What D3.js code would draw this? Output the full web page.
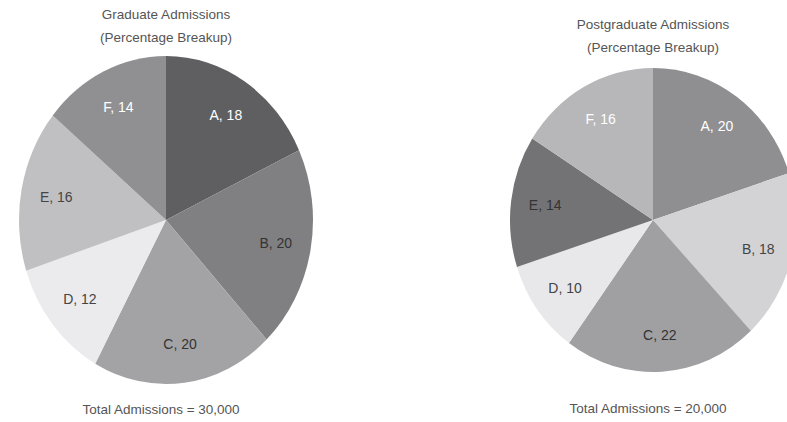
<!DOCTYPE html>
<html>
<head>
<meta charset="utf-8">
<script src="https://cdn.jsdelivr.net/npm/d3@7"></script>
<style>
  body { margin: 0; background: #fff; overflow: hidden; }
  svg { display: block; font-family: "Liberation Sans", Arial, sans-serif; }
  .title, .total { fill: #555; font-size: 13.5px; }
  .slice-label { font-size: 14px; }
</style>
</head>
<body>
<svg id="chart" width="787" height="422"></svg>
<script>
// categories and values (percent)
const categories = ["A", "B", "C", "D", "E", "F"];
const gradValues = [18, 20, 20, 12, 16, 14];
const postValues = [20, 18, 22, 10, 14, 16];
const gradColors = ["#5f5f62", "#808083", "#a3a3a6", "#ebebee", "#c0c0c3", "#909093"];
const postColors = ["#8f8f92", "#d3d3d6", "#a0a0a3", "#e8e8eb", "#737376", "#b7b7ba"];
const gradLabelColors = ["#fff", "#333", "#333", "#444", "#444", "#fff"];
const postLabelColors = ["#fff", "#444", "#333", "#444", "#333", "#fff"];
const titles = [
  ["Graduate Admissions", "(Percentage Breakup)"],
  ["Postgraduate Admissions", "(Percentage Breakup)"]
];
const totals = ["Total Admissions = 30,000", "Total Admissions = 20,000"];

const svg = d3.select("#chart");

const charts = [
  {values: gradValues, colors: gradColors, labelColors: gradLabelColors, title: titles[0], total: totals[0],
   cx: 166, cy: 220, rx: 147, ry: 164, titleY: 19, totalY: 414},
  {values: postValues, colors: postColors, labelColors: postLabelColors, title: titles[1], total: totals[1],
   cx: 653, cy: 220, rx: 143, ry: 152, titleY: 29, totalY: 413}
];

const pie = d3.pie().sort(null).value(d => d.v);

charts.forEach(c => {
  const data = pie(categories.map((k, i) => ({k: k, v: c.values[i], i: i})));
  const arc = d3.arc().innerRadius(0).outerRadius(c.ry);
  const labelArc = d3.arc().innerRadius(c.ry * 0.76).outerRadius(c.ry * 0.76);
  const sx = c.rx / c.ry;

  const g = svg.append("g")
    .attr("transform", "translate(" + c.cx + "," + c.cy + ")");

  // squash the circle into an ellipse
  g.append("g")
    .attr("transform", "scale(" + sx + ",1)")
    .selectAll("path")
    .data(data)
    .enter().append("path")
      .attr("d", arc)
      .attr("fill", d => c.colors[d.data.i]);

  g.selectAll("text.slice-label")
    .data(data)
    .enter().append("text")
      .attr("class", "slice-label")
      .attr("x", d => labelArc.centroid(d)[0] * sx)
      .attr("y", d => labelArc.centroid(d)[1])
      .attr("dy", "0.35em")
      .attr("text-anchor", "middle")
      .attr("fill", d => c.labelColors[d.data.i])
      .text(d => d.data.k + ", " + d.data.v);

  svg.append("text")
    .attr("class", "title")
    .attr("x", c.cx)
    .attr("y", c.titleY)
    .attr("text-anchor", "middle")
    .selectAll("tspan")
    .data(c.title)
    .enter().append("tspan")
      .attr("x", c.cx)
      .attr("dy", (d, i) => i ? 23 : 0)
      .text(d => d);

  svg.append("text")
    .attr("class", "total")
    .attr("x", c.cx - 5)
    .attr("y", c.totalY)
    .attr("text-anchor", "middle")
    .text(c.total);
});
</script>
</body>
</html>
